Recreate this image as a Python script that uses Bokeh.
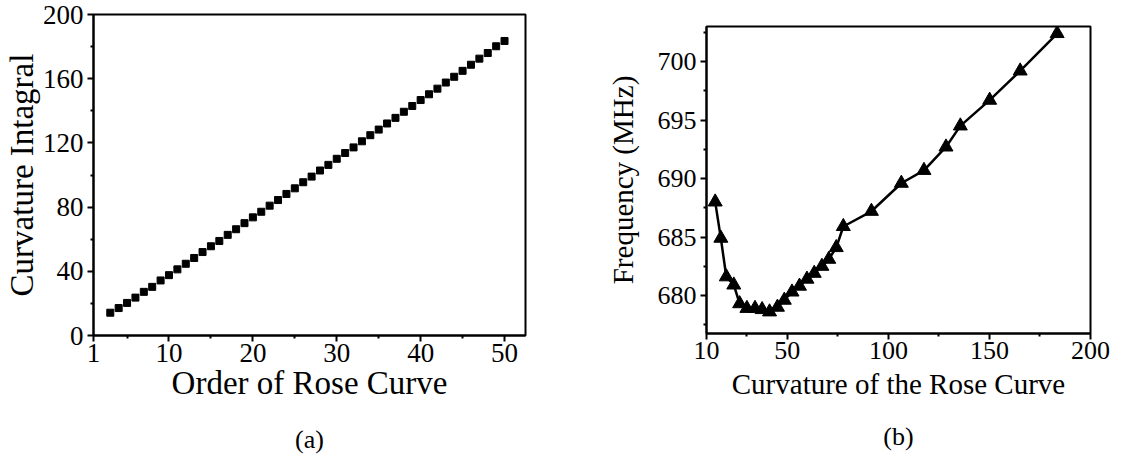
from bokeh.plotting import figure
from bokeh.layouts import row
from bokeh.models import FixedTicker, Title
from bokeh.embed import file_html
from bokeh.resources import INLINE

# ---- data (a) ----
order = list(range(3, 51))
curv_integral = [14.2, 17.1, 20.3, 23.6, 27.2, 30.3, 34.3, 37.6, 41.2, 44.7,
                 48.3, 52.0, 55.6, 58.9, 62.7, 66.2, 70.0, 73.6, 77.1, 80.9,
                 84.4, 88.2, 91.7, 95.5, 99.0, 102.8, 106.3, 110.1, 113.7, 117.2,
                 121.0, 124.8, 128.3, 132.1, 135.6, 139.4, 143.0, 146.7, 150.3, 153.8,
                 157.6, 161.2, 164.9, 168.7, 172.5, 176.0, 180.2, 183.5]

# ---- data (b) ----
curvature = [14.3, 17.1, 19.8, 23.5, 26.4, 30.0, 34.0, 37.5, 41.2, 45.1,
             48.5, 52.3, 56.0, 59.7, 63.3, 67.1, 70.5, 74.2, 77.7, 91.6,
             106.4, 117.6, 128.5, 135.6, 150.1, 165.2, 183.5]
frequency = [688.0, 684.9, 681.6, 680.9, 679.3, 678.9, 678.9, 678.8, 678.6, 679.0,
             679.6, 680.3, 680.8, 681.4, 681.9, 682.5, 683.1, 684.1, 685.9, 687.2,
             689.6, 690.7, 692.7, 694.5, 696.7, 699.2, 702.4]

a_xticks = [1, 10, 20, 30, 40, 50]
a_xminor = [5, 15, 25, 35, 45]
a_yticks = [0, 40, 80, 120, 160, 200]
a_yminor = [20, 60, 100, 140, 180]
b_xticks = [10, 50, 100, 150, 200]
b_xminor = [30, 75, 125, 175]
b_yticks = [680, 685, 690, 695, 700]
b_yminor = [677.5, 682.5, 687.5, 692.5, 697.5, 702.5]

FONT = "Liberation Serif"


def style(p, tick_size, title_size, xlab_standoff, ylab_standoff):
    p.outline_line_color = "black"
    p.outline_line_width = 2
    p.grid.visible = False
    for ax in (p.xaxis[0], p.yaxis[0]):
        ax.axis_line_width = 2
        ax.major_tick_line_width = 2
        ax.minor_tick_line_width = 2
        ax.major_tick_out = 6
        ax.major_tick_in = 0
        ax.minor_tick_out = 3
        ax.minor_tick_in = 0
        ax.major_label_text_font = FONT
        ax.major_label_text_font_size = f"{tick_size}px"
        ax.major_label_text_color = "black"
        ax.axis_label_text_font = FONT
        ax.axis_label_text_font_size = f"{title_size}px"
        ax.axis_label_text_font_style = "normal"
        ax.axis_label_text_color = "black"
    p.xaxis[0].major_label_standoff = 2
    p.yaxis[0].major_label_standoff = 4
    p.xaxis[0].axis_label_standoff = xlab_standoff
    p.yaxis[0].axis_label_standoff = ylab_standoff


def caption(p, text, standoff):
    p.add_layout(Title(text=text, align="center", standoff=standoff,
                       text_font=FONT, text_font_size="26px",
                       text_font_style="normal", text_color="black"), "below")


# ---- figure (a) ----
pa = figure(title=None, frame_width=432, frame_height=321, x_range=(1, 52.5), y_range=(0, 200),
            output_backend="svg", toolbar_location=None, frame_align=False,
            min_border_left=93, min_border_right=37, min_border_top=14, min_border_bottom=123,
            background_fill_color="white", border_fill_color="white")
pa.scatter(order, curv_integral, marker="square", size=7, color="black")
pa.xaxis[0].ticker = FixedTicker(ticks=a_xticks, minor_ticks=a_xminor)
pa.yaxis[0].ticker = FixedTicker(ticks=a_yticks, minor_ticks=a_yminor)
pa.xaxis[0].axis_label = "Order of Rose Curve"
pa.yaxis[0].axis_label = "Curvature Intagral"
style(pa, 27, 33, 0, 0)
caption(pa, "(a)", 39)

# ---- figure (b) ----
pb = figure(title=None, frame_width=384, frame_height=307, x_range=(10, 200), y_range=(676.75, 703),
            output_backend="svg", toolbar_location=None, frame_align=False,
            min_border_left=144, min_border_right=34, min_border_top=26, min_border_bottom=125,
            background_fill_color="white", border_fill_color="white")
pb.line(curvature, frequency, line_width=2.5, color="black")
pb.scatter(curvature, frequency, marker="triangle", size=14, color="black")
pb.xaxis[0].ticker = FixedTicker(ticks=b_xticks, minor_ticks=b_xminor)
pb.yaxis[0].ticker = FixedTicker(ticks=b_yticks, minor_ticks=b_yminor)
pb.xaxis[0].axis_label = "Curvature of the Rose Curve"
pb.yaxis[0].axis_label = "Frequency (MHz)"
style(pb, 26, 29, 6, 16)
caption(pb, "(b)", 34)

layout = row(pa, pb)
open("out.html", "w").write(file_html(layout, INLINE))
